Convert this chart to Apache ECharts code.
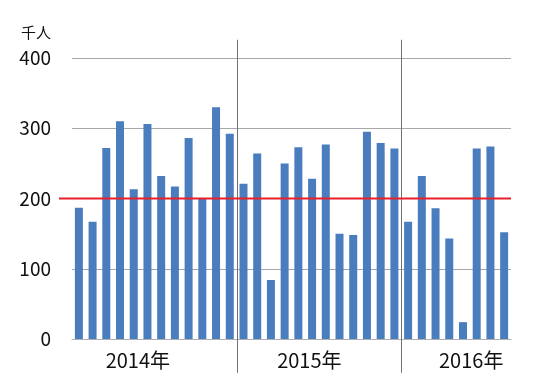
<!DOCTYPE html>
<html><head><meta charset="utf-8">
<script src="https://cdn.jsdelivr.net/npm/echarts@6/dist/echarts.min.js"></script>
<style>html,body{margin:0;padding:0;background:#fff}#c{width:554px;height:391px}</style>
</head><body><div id="c"></div>
<script>
// months Jan 2014 .. Aug 2016
const months = [];
for (let y = 2014; y <= 2016; y++) for (let m = 1; m <= 12; m++) if (!(y === 2016 && m > 8)) months.push(y + '-' + m);
const values = [187,167,272,310,213,306,232,217,286,200,330,292,
                221,264,84,250,273,228,277,150,148,295,279,271,
                167,232,186,143,24,271,274,152];
const yearLabels = ['2014年','2015年','2016年'];
const yearStartIndex = [12, 24];
const referenceLevel = 200;
const yTicks = [0,100,200,300,400];

const FONT = '"Noto Sans CJK JP","Liberation Sans",sans-serif';
const chart = echarts.init(document.getElementById('c'), null, {renderer:'canvas'});
const labelAt = [4.8, 17.3, 29.1];
chart.setOption({
  animation:false,
  grid:{left:72, right:43, top:58, bottom:52, containLabel:false},
  xAxis:[{
    type:'category', data:months, boundaryGap:true,
    axisLine:{show:true, lineStyle:{color:'#b0b0b0', width:1}},
    axisTick:{show:false}, axisLabel:{show:false}, splitLine:{show:false}
  },{
    type:'value', min:0, max:months.length, position:'bottom',
    axisLine:{show:false}, axisTick:{show:false}, splitLine:{show:false},
    axisLabel:{show:true, customValues:labelAt, margin:11, fontSize:20, color:'#111', fontFamily:FONT,
      formatter:function(v){ const i = labelAt.indexOf(v); return i>=0 ? yearLabels[i] : ''; }}
  }],
  yAxis:{
    type:'value', min:yTicks[0], max:yTicks[yTicks.length-1], interval:100,
    name:'千人', nameLocation:'end', nameGap:18,
    nameTextStyle:{fontSize:15, color:'#111', fontFamily:FONT, align:'right', padding:[0,21,0,0]},
    axisLine:{show:false}, axisTick:{show:false},
    axisLabel:{margin:21, fontSize:19, color:'#111', fontFamily:FONT},
    splitLine:{show:true, lineStyle:{color:'#a8a8a8', width:1}}
  },
  series:[{
    type:'bar', data:values, barWidth:8, xAxisIndex:0,
    itemStyle:{color:'#4a7dbd'}
  },{
    type:'custom', xAxisIndex:0, silent:true, clip:false, z:5,
    data:yearStartIndex.map(i=>[i,0]),
    encode:{x:0, y:1},
    renderItem:function(params, api){
      const c = api.coord([api.value(0), 0]);
      const w = api.size([1,0])[0];
      const x = Math.round(c[0] - w/2) + 0.5;
      const top = api.coord([api.value(0), 426])[1];
      const bot = api.coord([api.value(0), -48])[1];
      return {type:'line', shape:{x1:x, y1:top, x2:x, y2:bot},
        style:{stroke:'#707070', lineWidth:1}};
    }
  },{
    type:'custom', xAxisIndex:0, silent:true, clip:false, z:6,
    data:[[0, referenceLevel]],
    encode:{x:0, y:1},
    renderItem:function(params, api){
      const w = api.size([1,0])[0];
      const p0 = api.coord([0, api.value(1)]);
      const p1 = api.coord([months.length-1, api.value(1)]);
      return {type:'line', shape:{x1:p0[0] - w/2 - 13, y1:p0[1], x2:p1[0] + w/2, y2:p1[1]},
        style:{stroke:'#e8202a', lineWidth:2}};
    }
  }]
});
</script></body></html>
